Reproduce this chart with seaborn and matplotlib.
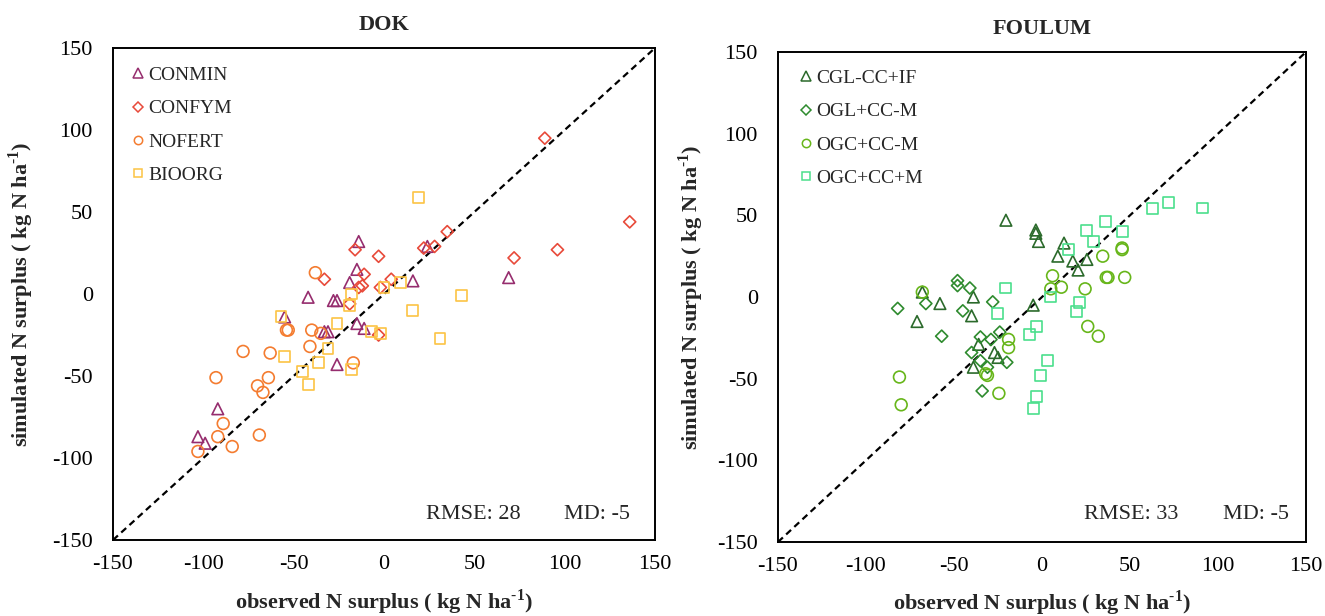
import matplotlib
matplotlib.use("Agg")
import matplotlib.pyplot as plt
import seaborn as sns
import pandas as pd
import numpy as np
from matplotlib.lines import Line2D

# ---------------- DATA ----------------
# DOK
conmin_obs = [-103, -99, -92, -55, -42, -28, -26, -33, -31, -26, -15, -11, -19, -15, -14, 16, 24, 69]
conmin_sim = [-87, -91, -70, -14, -2, -4, -4, -23, -23, -43, -18, -21, 7, 15, 32, 8, 29, 10]
confym_obs = [89, 136, 96, 72, 35, 22, 28, -16, -3, -11, -33, 4, -2, -12, -14, -19, -3]
confym_sim = [95, 44, 27, 22, 38, 28, 29, 27, 23, 12, 9, 9, 4, 5, 4, -6, -25]
nofert_obs = [-54, -53, -78, -63, -93, -64, -70, -67, -89, -92, -69, -84, -103, -38, -40, -35, -41, -17]
nofert_sim = [-22, -22, -35, -36, -51, -51, -56, -60, -79, -87, -86, -93, -96, 13, -22, -24, -32, -42]
bioorg_obs = [19, 43, 16, 31, 9, 0, -18, -19, -26, -7, -2, -31, -55, -57, -36, -18, -45, -42]
bioorg_sim = [59, -1, -10, -27, 7, 4, 0, -7, -18, -23, -24, -33, -38, -14, -42, -46, -47, -55]

# FOULUM
cgl_obs = [-68, -58, -71, -20.5, -3.5, -3.5, -2, 12.5, 9, 17.5, 20.5, 25.5, -5, -39, -40, -36, -27, -25, -39]
cgl_sim = [3, -4, -15, 47, 41, 39, 34, 33, 25, 22, 16.5, 23, -5, 0, -11.5, -29, -34, -37, -43]
oglm_obs = [-48, -48, -82, -66, -57, -41, -28, -45, -24, -35, -29, -40, -35, -20, -31, -34]
oglm_sim = [10, 7, -7, -4, -24, 5.5, -3, -8.5, -21.5, -24.5, -26, -34, -39, -40, -43, -57.5]
ogcm_obs = [-68, -81, -80, 45.5, 45.5, 34.5, 6, 36.5, 37.5, 47, 11, 5, 24.5, 26, 32, -19, -19, -32, -31, -24.5]
ogcm_sim = [3, -49, -66, 30, 29, 25, 13, 12, 12, 12, 6, 5, 5, -18, -24, -26, -31, -47, -48, -59]
ogcpm_obs = [72, 63, 91, 36, 25.5, 46, 29.5, 15, 5, -21, 21.5, 19.5, -25.5, -3, -7, 3, -1, -3, -5]
ogcpm_sim = [58, 54, 54.5, 46, 41, 40, 34, 29, 0, 5.5, -3.5, -9, -10, -18, -23, -39, -48, -61, -68]

dok_names = ["CONMIN", "CONFYM", "NOFERT", "BIOORG"]
foulum_names = ["CGL-CC+IF", "OGL+CC-M", "OGC+CC-M", "OGC+CC+M"]
ticks = [-150, -100, -50, 0, 50, 100, 150]

# ---------------- STYLE ----------------
sns.set_theme(style="white")
plt.rcParams["font.family"] = ["Liberation Serif", "DejaVu Serif"]
plt.rcParams["mathtext.fontset"] = "custom"
plt.rcParams["mathtext.rm"] = "Liberation Serif:bold"
plt.rcParams["mathtext.bf"] = "Liberation Serif:bold"
plt.rcParams["axes.unicode_minus"] = False

dok_series = [
    (conmin_obs, conmin_sim, "^", "#962d6e"),
    (confym_obs, confym_sim, "D", "#e84a3a"),
    (nofert_obs, nofert_sim, "o", "#f47c30"),
    (bioorg_obs, bioorg_sim, "s", "#fcc444"),
]
foulum_series = [
    (cgl_obs, cgl_sim, "^", "#2b6a2b"),
    (oglm_obs, oglm_sim, "D", "#2e8b2e"),
    (ogcm_obs, ogcm_sim, "o", "#67b61a"),
    (ogcpm_obs, ogcpm_sim, "s", "#4bdf8c"),
]
sizes = {"^": 70, "D": 38, "o": 72, "s": 62}
leg_ms = {"^": 6.5, "D": 5.3, "o": 6, "s": 6}

fig = plt.figure(figsize=(13.25, 6.16), dpi=100)
ax1 = fig.add_axes([113 / 1325, 76 / 616, 542 / 1325, 492 / 616])
ax2 = fig.add_axes([778 / 1325, 74 / 616, 528 / 1325, 490 / 616])

sup = r"$^{\text{-}\mathbf{1}}$"


def draw(ax, series, names, title, rmse, md, leg_anchor, txt_x, txt_y,
         xlab_y, ylab_x):
    handles = []
    for (xo, ys, m, c), name in zip(series, names):
        df = pd.DataFrame({"obs": xo, "sim": ys})
        sns.scatterplot(data=df, x="obs", y="sim", marker=m, s=sizes[m],
                        color=c, facecolors="none", edgecolors=c,
                        linewidth=1.2, ax=ax, zorder=3)
        handles.append(Line2D([], [], marker=m, linestyle="none",
                              markerfacecolor="none", markeredgecolor=c,
                              markeredgewidth=1.1,
                              markersize=leg_ms[m], label=name))
    ax.plot([-150, 150], [-150, 150], linestyle=(0, (3, 2)), color="black",
            linewidth=1.6, zorder=2)
    ax.set_xlim(-150, 150)
    ax.set_ylim(-150, 150)
    ax.set_xticks(ticks)
    ax.set_yticks(ticks)
    ax.tick_params(length=0, labelsize=16, colors="black")
    ax.tick_params(axis="x", pad=11)
    ax.tick_params(axis="y", pad=14.5)
    for sp in ax.spines.values():
        sp.set_color("black")
        sp.set_linewidth(1.4)
    ax.set_title(title, fontsize=16, fontweight="bold", pad=13)
    ax.set_xlabel("observed N surplus ( kg N ha" + sup + ")",
                  fontsize=16, fontweight="bold", va="center")
    ax.set_ylabel("simulated N surplus ( kg N ha" + sup + ")",
                  fontsize=16, fontweight="bold")
    ax.xaxis.set_label_coords(0.5, xlab_y)
    ax.yaxis.set_label_coords(ylab_x, 0.5)
    ax.legend(handles=handles, loc="upper left", frameon=False,
              fontsize=14, handlelength=0.8, handletextpad=0.15,
              labelspacing=0.8, borderaxespad=0.0, borderpad=0.4,
              bbox_to_anchor=leg_anchor)
    ax.text(txt_x[0], txt_y, f"RMSE: {rmse}", transform=ax.transAxes,
            fontsize=16, ha="center", va="center")
    ax.text(txt_x[1], txt_y, f"MD: {md}", transform=ax.transAxes,
            fontsize=16, ha="center", va="center")


draw(ax1, dok_series, dok_names, "DOK", 28, -5, (0.017, 0.978),
     (0.664, 0.893), 0.052, -0.126, -0.142)
draw(ax2, foulum_series, foulum_names, "FOULUM", 33, -5, (0.023, 0.98),
     (0.669, 0.905), 0.056, -0.125, -0.137)

fig.savefig("out.png", dpi=100, facecolor="white")
